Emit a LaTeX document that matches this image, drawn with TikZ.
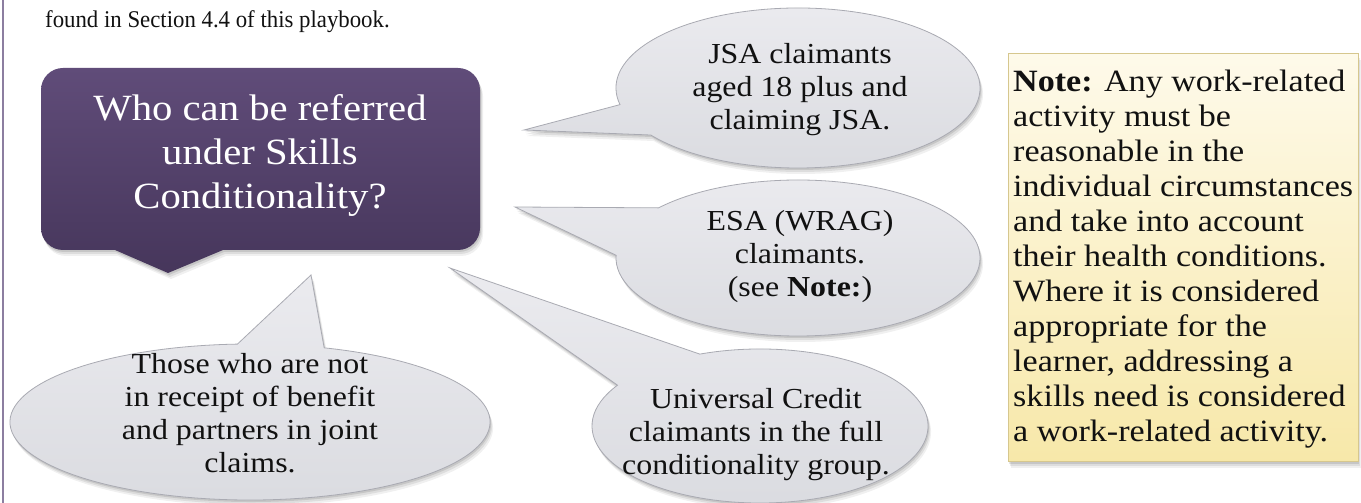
\documentclass[tikz,border=0pt]{standalone}
\usepackage{fontspec}
\setmainfont{Liberation Serif}[FakeStretch=1.1]
\newfontfamily\introfont{Liberation Serif}[FakeStretch=0.95]
\usetikzlibrary{shadows,calc}
\definecolor{purpTop}{HTML}{604C79}
\definecolor{purpBot}{HTML}{46365B}
\definecolor{edgeline}{HTML}{8C7EA0}
\definecolor{balTop}{HTML}{EBEBEF}
\definecolor{balBot}{HTML}{DADBE0}
\definecolor{balEdge}{HTML}{A9AAB2}
\definecolor{noteTop}{HTML}{FEFAEA}
\definecolor{noteBot}{HTML}{F7E8A9}
\definecolor{noteEdge}{HTML}{D6C78E}
\definecolor{ink}{HTML}{111111}
\begin{document}
\begin{tikzpicture}[x=1pt,y=1pt,
  softshadow/.style={
    general shadow={fill=black,opacity=0.10,shadow xshift=1pt,shadow yshift=-2pt},
    general shadow={fill=black,opacity=0.08,shadow xshift=2pt,shadow yshift=-4pt},
    general shadow={fill=black,opacity=0.06,shadow xshift=3pt,shadow yshift=-6pt}},
  balloon/.style={softshadow, top color=balTop, bottom color=balBot, draw=balEdge, line width=0.8pt},
  baltext/.style={inner sep=0pt, align=center, text=ink, font=\fontsize{29}{33}\selectfont},
  notebox/.style={softshadow, top color=noteTop, bottom color=noteBot, draw=noteEdge, line width=1pt,
    minimum width=350pt, minimum height=408pt, inner sep=0pt}]
\useasboundingbox (0,0) rectangle (1361,503);
\fill[white] (0,0) rectangle (1361,503);
\draw[edgeline, line width=1.5pt] (3,0) -- (3,503);

\node[anchor=base west, inner sep=0pt, text=ink, font=\introfont\fontsize{24}{28}\selectfont] (intro) at (45,475)
  {found in Section 4.4 of this playbook.};

% balloon centres and tips
\coordinate (jsac) at (798,415);
\coordinate (jsatip) at (524,373);
\coordinate (esac) at (798,245);
\coordinate (esatip) at (515,296);
\coordinate (ucc) at (760,77);
\coordinate (uctip) at (450,235);
\coordinate (thc) at (250,81);
\coordinate (thtip) at (311,228);

\path[balloon] (jsatip) -- ($(jsac)+(192:182pt and 80pt)$)
  arc[start angle=192, end angle=-144, x radius=182pt, y radius=80pt] -- cycle;
\path[balloon] (esatip) -- ($(esac)+(140:182pt and 78pt)$)
  arc[start angle=140, end angle=-182, x radius=182pt, y radius=78pt] -- cycle;
\path[balloon] (uctip) -- ($(ucc)+(111:168pt and 77pt)$)
  arc[start angle=111, end angle=-212, x radius=168pt, y radius=77pt] -- cycle;
\path[balloon] (thtip) -- ($(thc)+(72:240pt and 78pt)$)
  arc[start angle=72, end angle=-267, x radius=240pt, y radius=78pt] -- cycle;

% purple callout
\path[softshadow, top color=purpTop, bottom color=purpBot]
  (41,275) -- (41,413) arc[start angle=180, end angle=90, radius=22pt]
  -- (458,435) arc[start angle=90, end angle=0, radius=22pt]
  -- (480,275) arc[start angle=0, end angle=-90, radius=22pt]
  -- (223,253) -- (168,230) -- (115,253)
  -- (63,253) arc[start angle=270, end angle=180, radius=22pt] -- cycle;
\node[inner sep=0pt, align=center, text=white, font=\fontsize{37}{44}\selectfont] (question) at (260,348)
  {Who can be referred\\under Skills\\Conditionality?};

\node[baltext] (jsa) at (800,413) {JSA claimants\\aged 18 plus and\\claiming JSA.};
\node[baltext] (esa) at (800,246) {ESA (WRAG)\\claimants.\\(see \textbf{Note:})};
\node[baltext] (uc) at (756,68) {Universal Credit\\claimants in the full\\conditionality group.};
\node[baltext] (those) at (250,90) {Those who are not\\in receipt of benefit\\and partners in joint\\claims.};

\node[notebox] (note) at (1183,245) {};
\node[anchor=north west, inner sep=0pt, align=left, text=ink, font=\fontsize{31}{35}\selectfont] (notetext) at (1013,433)
  {\textbf{Note:} Any work-related\\activity must be\\reasonable in the\\individual circumstances\\and take into account\\their health conditions.\\Where it is considered\\appropriate for the\\learner, addressing a\\skills need is considered\\a work-related activity.};
\end{tikzpicture}
\end{document}
